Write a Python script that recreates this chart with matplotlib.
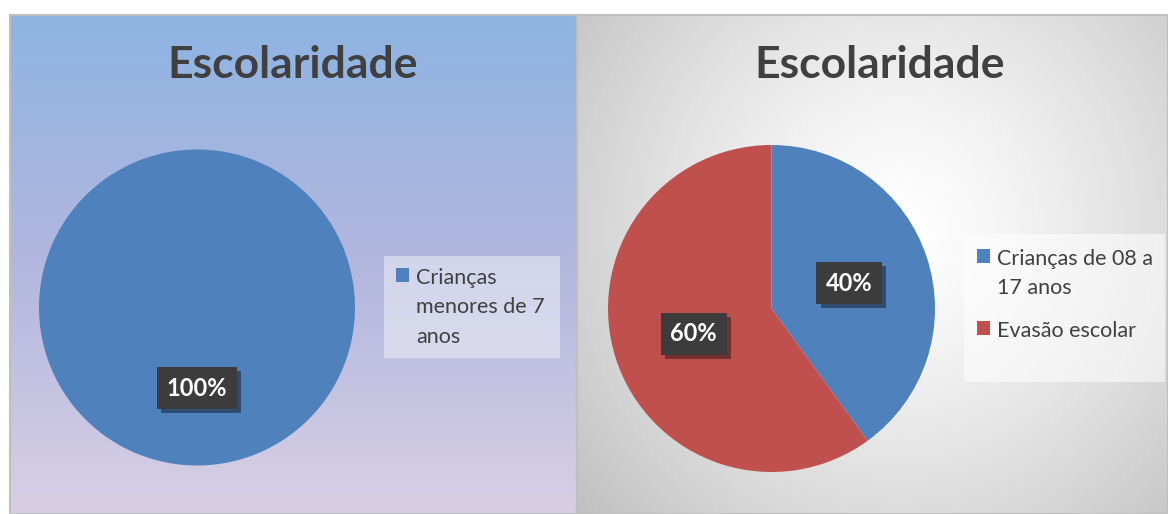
import numpy as np
import matplotlib
matplotlib.use("Agg")
import matplotlib.pyplot as plt
import matplotlib.patheffects as pe
from matplotlib.patches import Rectangle

# data
title = "Escolaridade"
left_labels = ["Crianças\nmenores de 7\nanos"]
left_values = [100]
right_labels = ["Crianças de 08 a\n17 anos", "Evasão escolar"]
right_values = [40, 60]
colors = ["#4F81BD", "#C0504D"]

W, H = 1168, 514
fig = plt.figure(figsize=(W / 100, H / 100), dpi=100)
fig.patch.set_facecolor("white")
plt.rcParams['font.family'] = ['Lato', 'DejaVu Sans']


def box(x0, y0, x1, y1):
    # pixel box (top-left origin) -> figure fraction rect
    return [x0 / W, 1 - y1 / H, (x1 - x0) / W, (y1 - y0) / H]


# left panel: vertical gradient blue -> lavender
bg1 = fig.add_axes(box(10, 15, 577, 514))
t = np.linspace(0, 1, 200)[:, None]
top = np.array([142, 180, 227]) / 255
mid = np.array([178, 183, 222]) / 255
bot = np.array([216, 207, 229]) / 255
grad = np.where(t < 0.5, top + (mid - top) * (t / 0.5), mid + (bot - mid) * ((t - 0.5) / 0.5))
bg1.imshow(grad[:, None, :].repeat(2, axis=1), aspect="auto", extent=[0, 1, 0, 1])
bg1.set_xticks([]); bg1.set_yticks([])
for s in bg1.spines.values():
    s.set_color("#BFBFBF"); s.set_linewidth(1.5)
bg1.add_patch(Rectangle((384 / W, 1 - 358 / H), 176 / W, 102 / H, transform=fig.transFigure,
                        facecolor="white", alpha=0.42, edgecolor="none"))

# right panel: radial gradient white -> grey
bg2 = fig.add_axes(box(577, 15, 1168, 514))
xx, yy = np.meshgrid(np.linspace(577, 1168, 300), np.linspace(15, 514, 260))
d = np.hypot((xx - 900) / 1.0, (yy - 230) / 1.05)
v = 1 - 0.23 * np.clip(d / 400, 0, 1.2) ** 1.3
bg2.imshow(np.dstack([v, v, v]), aspect="auto", extent=[0, 1, 0, 1], origin="upper")
bg2.set_xticks([]); bg2.set_yticks([])
for s in bg2.spines.values():
    s.set_color("#BFBFBF"); s.set_linewidth(1.5)
bg2.add_patch(Rectangle((964 / W, 1 - 382 / H), 201 / W, 148 / H, transform=fig.transFigure,
                        facecolor="white", alpha=0.55, edgecolor="none"))

# titles
fig.text(293 / W, 1 - 65 / H, title, ha="center", va="center",
         fontsize=32, fontweight="bold", color="#404040")
fig.text(880 / W, 1 - 65 / H, title, ha="center", va="center",
         fontsize=32, fontweight="bold", color="#404040")


def style_pct(texts):
    for tx in texts:
        tx.set_color("white")
        tx.set_fontweight("bold")
        tx.set_fontsize(17)
        tx.set_bbox(dict(boxstyle="square,pad=0.4", facecolor="#3C3C3C", edgecolor="none"))
        tx.get_bbox_patch().set_path_effects(
            [pe.SimplePatchShadow(offset=(3, -3), shadow_rgbFace="black", alpha=0.4), pe.Normal()])


# left pie
cx, cy, r = 197, 307.5, 158
ax1 = fig.add_axes(box(cx - r, cy - r, cx + r, cy + r))
w1, _, at1 = ax1.pie(left_values, colors=colors[:1], startangle=90, counterclock=False,
                     autopct=lambda p: f"{p:.0f}%", pctdistance=0.51)
ax1.set_xlim(-1, 1); ax1.set_ylim(-1, 1)
style_pct(at1)

# right pie
cx, cy, r = 771.5, 308.5, 163.5
ax2 = fig.add_axes(box(cx - r, cy - r, cx + r, cy + r))
w2, _, at2 = ax2.pie(right_values, colors=colors, startangle=90, counterclock=False,
                     autopct=lambda p: f"{p:.0f}%", pctdistance=0.5)
ax2.set_xlim(-1, 1); ax2.set_ylim(-1, 1)
style_pct(at2)

leg_kw = dict(loc="upper left", bbox_transform=fig.transFigure, frameon=False,
              handlelength=0.62, handleheight=0.62, handletextpad=0.3,
              labelcolor="#404040", prop={"size": 15.5}, borderpad=0, borderaxespad=0)
leg1 = ax1.legend(w1, left_labels, bbox_to_anchor=(396 / W, 1 - 268 / H), labelspacing=0.6, **leg_kw)
leg2 = ax2.legend(w2, right_labels, bbox_to_anchor=(977 / W, 1 - 249 / H), labelspacing=1.05, **leg_kw)
for leg in (leg1, leg2):
    for tx in leg.get_texts():
        tx.set_linespacing(1.58)
    # put the square next to the first line of a wrapped label
    for col in leg._legend_handle_box.get_children():
        for row in col.get_children():
            row.align = "top"

fig.savefig("out.png", dpi=100)
